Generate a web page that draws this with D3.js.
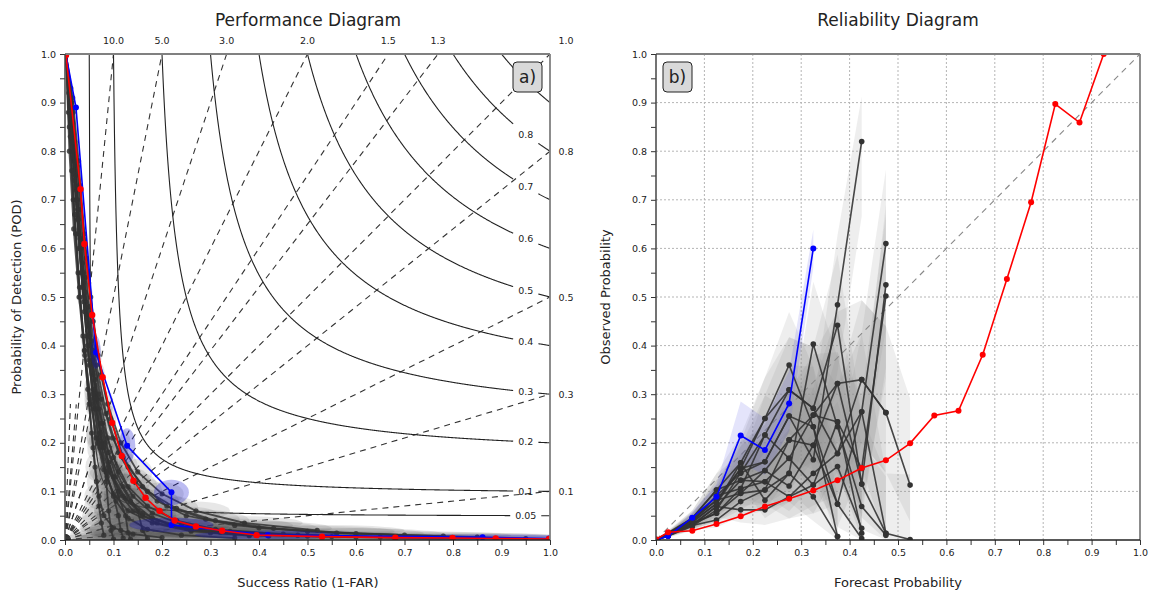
<!DOCTYPE html>
<html><head><meta charset="utf-8">
<script src="https://cdn.jsdelivr.net/npm/d3@7"></script>
<style>
body{margin:0;background:#fff;}
text{font-family:"DejaVu Sans",sans-serif;fill:#222;}
</style>
</head><body>
<svg id="c" width="1152" height="595"></svg>
<script>
// ---------------- DATA ----------------
const tickValues = [0,0.1,0.2,0.3,0.4,0.5,0.6,0.7,0.8,0.9,1.0];
const minorTickValues = [0.05,0.15,0.25,0.35,0.45,0.55,0.65,0.75,0.85,0.95];
const csiLevels = [0.05,0.1,0.2,0.3,0.4,0.5,0.6,0.7,0.8,0.9];
const csiLabelled = [0.05,0.1,0.2,0.3,0.4,0.5,0.6,0.7,0.8];
const biasLevels = [0.1,0.3,0.5,0.8,1.0,1.3,1.5,2.0,3.0,5.0,10.0];
const fanBias = [0.3,0.7,1.7,3,6,12,25];

// Performance diagram: [success ratio, POD]
const redPerf = [[0.002,0.998],[0.032,0.722],[0.040,0.609],[0.056,0.463],[0.0776,0.335],[0.0973,0.241],[0.117,0.173],[0.141,0.122],[0.166,0.087],[0.195,0.060],[0.226,0.040],[0.270,0.028],[0.324,0.019],[0.395,0.010],[0.530,0.0069],[0.681,0.0048],[0.799,0.004],[0.888,0.003],[0.998,0.002]];
const bluePerf = [[0.002,0.998],[0.0226,0.89],[0.0638,0.386],[0.128,0.194],[0.2195,0.098],[0.2195,0.031],[0.418,0.0103],[0.861,0.0056],[0.998,0.003]];
const bluePerfErrSR  = [0,0,0.010,0.017,0.036,0.087,0.15,0.2,0];
const bluePerfErrPOD = [0,0,0.034,0.036,0.026,0.015,0.009,0.006,0];
const ensPerf = [
 [[0.002,1],[0.012,0.9],[0.022,0.75],[0.033,0.6],[0.045,0.46],[0.058,0.34],[0.072,0.24],[0.09,0.16],[0.11,0.1],[0.14,0.06],[0.19,0.035],[0.26,0.02],[0.38,0.011],[0.6,0.006],[0.95,0.003]],
 [[0.002,1],[0.01,0.88],[0.019,0.74],[0.029,0.6],[0.04,0.47],[0.05,0.36],[0.063,0.27],[0.08,0.19],[0.1,0.13],[0.125,0.085],[0.16,0.05],[0.22,0.03],[0.32,0.016],[0.5,0.008]],
 [[0.002,1],[0.015,0.86],[0.026,0.7],[0.038,0.55],[0.05,0.42],[0.062,0.3],[0.075,0.2],[0.085,0.12],[0.09,0.06],[0.095,0.02],[0.1,0.002]],
 [[0.002,1],[0.014,0.9],[0.025,0.77],[0.037,0.62],[0.05,0.48],[0.065,0.36],[0.085,0.26],[0.11,0.18],[0.145,0.12],[0.19,0.08],[0.25,0.05],[0.35,0.03],[0.5,0.018],[0.7,0.01]],
 [[0.002,1],[0.009,0.85],[0.017,0.7],[0.027,0.55],[0.037,0.42],[0.047,0.31],[0.055,0.22],[0.062,0.15],[0.07,0.09],[0.08,0.05],[0.1,0.025],[0.14,0.012],[0.2,0.005]],
 [[0.002,1],[0.013,0.87],[0.024,0.72],[0.036,0.57],[0.048,0.44],[0.062,0.33],[0.078,0.24],[0.1,0.17],[0.13,0.11],[0.17,0.07],[0.23,0.04],[0.31,0.022],[0.45,0.012],[0.65,0.006]],
 [[0.002,1],[0.011,0.89],[0.021,0.76],[0.031,0.62],[0.043,0.49],[0.057,0.37],[0.07,0.27],[0.09,0.18],[0.12,0.11],[0.15,0.06],[0.16,0.02],[0.17,0.003]],
 [[0.002,1],[0.016,0.91],[0.028,0.78],[0.04,0.63],[0.053,0.5],[0.068,0.38],[0.088,0.28],[0.115,0.2],[0.15,0.14],[0.2,0.095],[0.27,0.06],[0.37,0.035],[0.52,0.02]],
 [[0.002,1],[0.01,0.9],[0.018,0.78],[0.028,0.63],[0.039,0.49],[0.05,0.37],[0.06,0.27],[0.072,0.19],[0.087,0.13],[0.105,0.08],[0.13,0.045],[0.17,0.022],[0.24,0.01],[0.35,0.004]],
 [[0.002,1],[0.014,0.84],[0.026,0.68],[0.039,0.53],[0.052,0.4],[0.066,0.29],[0.083,0.2],[0.105,0.13],[0.135,0.08],[0.18,0.045],[0.25,0.024],[0.35,0.013],[0.55,0.007],[0.8,0.004]],
 [[0.002,1],[0.012,0.86],[0.023,0.7],[0.034,0.55],[0.046,0.42],[0.058,0.31],[0.072,0.22],[0.09,0.15],[0.11,0.09],[0.125,0.05],[0.13,0.015],[0.135,0.002]],
 [[0.002,1],[0.008,0.92],[0.016,0.8],[0.026,0.66],[0.036,0.52],[0.046,0.4],[0.057,0.3],[0.07,0.21],[0.09,0.14],[0.12,0.09],[0.16,0.055],[0.22,0.03],[0.3,0.015],[0.42,0.008]],
 [[0.002,1],[0.017,0.88],[0.03,0.73],[0.044,0.58],[0.058,0.45],[0.074,0.34],[0.094,0.25],[0.12,0.17],[0.16,0.11],[0.21,0.07],[0.29,0.043],[0.4,0.025],[0.56,0.014],[0.78,0.008]],
 [[0.002,1],[0.011,0.83],[0.02,0.67],[0.03,0.52],[0.04,0.39],[0.05,0.28],[0.058,0.19],[0.065,0.12],[0.07,0.07],[0.075,0.035],[0.08,0.01]],
 [[0.002,1],[0.007,0.88],[0.014,0.76],[0.022,0.63],[0.031,0.5],[0.041,0.39],[0.052,0.29],[0.064,0.21],[0.08,0.145],[0.1,0.095],[0.13,0.06],[0.18,0.035],[0.26,0.018],[0.38,0.009]],
 [[0.002,1],[0.012,0.93],[0.02,0.82],[0.03,0.68],[0.042,0.54],[0.055,0.41],[0.07,0.3],[0.088,0.21],[0.11,0.14],[0.14,0.09],[0.18,0.055],[0.24,0.032],[0.34,0.018],[0.48,0.01],[0.68,0.005]],
 [[0.002,1],[0.009,0.8],[0.018,0.64],[0.029,0.5],[0.041,0.38],[0.054,0.28],[0.068,0.2],[0.085,0.14],[0.1,0.09],[0.11,0.05],[0.115,0.02],[0.12,0.004]],
 [[0.002,1],[0.015,0.82],[0.028,0.66],[0.042,0.51],[0.057,0.39],[0.075,0.29],[0.098,0.21],[0.13,0.15],[0.17,0.1],[0.23,0.065],[0.31,0.04],[0.43,0.024],[0.6,0.013],[0.85,0.006]]
];
const ensErrSR  = [0,0.001,0.002,0.003,0.005,0.008,0.012,0.02,0.03,0.045,0.07,0.12,0.18,0.22,0.26];
const ensErrPOD = [0,0.006,0.01,0.014,0.018,0.022,0.026,0.028,0.027,0.024,0.019,0.014,0.011,0.008,0.006];

// Reliability diagram
const relBins = [0,0.025,0.075,0.125,0.175,0.225,0.275,0.325,0.375,0.425,0.475,0.525,0.575,0.625,0.675,0.725,0.775,0.825,0.875,0.925];
const binCounts = [5000,3000,900,400,200,120,80,58,44,36,30,25];
const redRel = [0.0014,0.016,0.019,0.033,0.049,0.069,0.085,0.102,0.123,0.148,0.164,0.199,0.256,0.266,0.381,0.537,0.695,0.897,0.859,1.0];
const blueRel = [0,0.008,0.046,0.089,0.215,0.185,0.281,0.60];
const blueCounts = [5000,3000,1500,600,160,170,200,600];
const ensRel = [
 [0,0.012,0.040,0.082,0.147,0.161,0.255,0.165,0.484,0.82],
 [0,0.015,0.045,0.103,0.159,0.250,0.360,0.233,0.074,0.264,0.61],
 [0,0.012,0.038,0.091,0.138,0.216,0.309,0.271,0.442,0.115,0.525],
 [0,0.008,0.030,0.069,0.123,0.143,0.206,0.195,0.322,0.330,0.262,0.113],
 [0,0.010,0.035,0.055,0.106,0.120,0.168,0.257,0.243,0.147,0.502],
 [0,0.014,0.042,0.082,0.096,0.103,0.137,0.403,0.233,0.069,0.010],
 [0,0.010,0.032,0.069,0.062,0.062,0.089,0.113,0.151,0.024],
 [0,0.011,0.036,0.075,0.159,0.082,0.137,0.089,0.007],
 [0,0.013,0.040,0.091,0.106,0.216,0.168,0.113,0.243,0.014],
 [0,0.009,0.033,0.055,0.096,0.143,0.111,0.195,0.074,0.003],
 [0,0.012,0.045,0.103,0.123,0.120,0.089,0.137,0.178,0.264,0.014],
 [0,0.010,0.030,0.041,0.079,0.103,0.206,0.257,0.322,0.115,0.014,0.001],
 [0,0.008,0.028,0.062,0.138,0.161,0.255,0.233,0.007],
 [0,0.011,0.038,0.075,0.147,0.250,0.309,0.271,0.178,0.330,0.262]
];

// ---------------- DRAWING ----------------
const svg = d3.select("#c");
const xL = d3.scaleLinear([0,1],[65,550]);
const yL = d3.scaleLinear([0,1],[540,54]);
const xR = d3.scaleLinear([0,1],[656,1140]);
const yR = d3.scaleLinear([0,1],[540,54]);

function wilson(p,n){const z=1.96,z2=z*z,den=1+z2/n;const c=(p+z2/(2*n))/den;const h=z*Math.sqrt(p*(1-p)/n+z2/(4*n*n))/den;return [Math.max(0,c-h),Math.min(1,c+h)];}

svg.append("clipPath").attr("id","clipL").append("rect").attr("x",65).attr("y",54).attr("width",485).attr("height",486);
svg.append("clipPath").attr("id","clipR").append("rect").attr("x",656).attr("y",54).attr("width",484).attr("height",486);

// ===== Left panel =====
const gL = svg.append("g");
const gLc = gL.append("g").attr("clip-path","url(#clipL)");

gLc.selectAll("line.bias").data(biasLevels).join("line")
  .attr("x1",xL(0)).attr("y1",yL(0))
  .attr("x2",b=>xL(Math.min(1,1/b))).attr("y2",b=>yL(Math.min(1,b)))
  .attr("stroke","#333").attr("stroke-width",1.1).attr("stroke-dasharray","6,5");
const fanReach = 0.28;
gLc.selectAll("line.fan").data(fanBias).join("line")
  .attr("x1",xL(0)).attr("y1",yL(0))
  .attr("x2",b=>xL(fanReach*Math.cos(Math.atan(b)))).attr("y2",b=>yL(fanReach*Math.sin(Math.atan(b))))
  .attr("stroke","#333").attr("stroke-width",1.1).attr("stroke-dasharray","6,5");

const labelSR = 0.95;
csiLevels.forEach(c=>{
  const lbl = String(c);
  const labelled = csiLabelled.includes(c);
  const halfGap = labelled ? (lbl.length*5.6)/2+4 : 0;
  const lx = xL(labelSR);
  const pts = d3.range(c, 1.0005, 0.001).map(s=>[s, 1/(1/c - 1/s + 1)]);
  const line = d3.line().x(d=>xL(d[0])).y(d=>yL(d[1])).defined(d=>!labelled || Math.abs(xL(d[0])-lx)>halfGap);
  gLc.append("path").attr("d",line(pts)).attr("fill","none").attr("stroke","#222").attr("stroke-width",1.1);
  if(labelled){
    const py = 1/(1/c - 1/labelSR + 1);
    gL.append("text").attr("x",lx).attr("y",yL(py)+3.5).attr("text-anchor","middle")
      .attr("font-size",9.5).text(lbl);
  }
});

const ensG = gLc.append("g");
ensPerf.forEach(m=>{
  ensG.append("g").selectAll("ellipse").data(m).join("ellipse")
    .attr("cx",d=>xL(d[0])).attr("cy",d=>yL(d[1]))
    .attr("rx",(d,i)=>xL(ensErrSR[i])-xL(0)).attr("ry",(d,i)=>yL(0)-yL(ensErrPOD[i]))
    .attr("fill","#555").attr("fill-opacity",0.14);
});
const lineL = d3.line().x(d=>xL(d[0])).y(d=>yL(d[1]));
ensPerf.forEach(m=>{
  ensG.append("path").attr("d",lineL(m)).attr("fill","none").attr("stroke","#333").attr("stroke-opacity",0.85).attr("stroke-width",1.8);
  ensG.append("g").selectAll("circle").data(m).join("circle")
    .attr("cx",d=>xL(d[0])).attr("cy",d=>yL(d[1])).attr("r",2.6).attr("fill","#333").attr("fill-opacity",0.85);
});
gLc.append("g").selectAll("ellipse").data(bluePerf).join("ellipse")
  .attr("cx",d=>xL(d[0])).attr("cy",d=>yL(d[1]))
  .attr("rx",(d,i)=>xL(bluePerfErrSR[i])-xL(0)).attr("ry",(d,i)=>yL(0)-yL(bluePerfErrPOD[i]))
  .attr("fill","#1010d0").attr("fill-opacity",0.28);
gLc.append("path").attr("d",lineL(bluePerf)).attr("fill","none").attr("stroke","#0000ff").attr("stroke-width",1.6);
gLc.append("g").selectAll("circle").data(bluePerf).join("circle")
  .attr("cx",d=>xL(d[0])).attr("cy",d=>yL(d[1])).attr("r",3).attr("fill","#0000ff");
gLc.append("path").attr("d",lineL(redPerf)).attr("fill","none").attr("stroke","#ff0000").attr("stroke-width",1.6);
gLc.append("g").selectAll("circle").data(redPerf).join("circle")
  .attr("cx",d=>xL(d[0])).attr("cy",d=>yL(d[1])).attr("r",3.2).attr("fill","#ff0000");

gL.selectAll("text.bl").data(biasLevels).join("text")
  .attr("x",b=> b>1 ? xL(1/b) : xL(1)+16)
  .attr("y",b=> b<1 ? yL(b)+3.5 : yL(1)-10)
  .attr("text-anchor","middle").attr("font-size",9.5)
  .text(b=>d3.format(".1f")(b));

// ===== Right panel =====
const gR = svg.append("g");
gR.selectAll("line.gx").data(tickValues.slice(1,10)).join("line")
  .attr("x1",d=>xR(d)).attr("x2",d=>xR(d)).attr("y1",yR(0)).attr("y2",yR(1))
  .attr("stroke","#b5b5b5").attr("stroke-dasharray","2,2").attr("stroke-width",1);
gR.selectAll("line.gy").data(tickValues.slice(1,10)).join("line")
  .attr("y1",d=>yR(d)).attr("y2",d=>yR(d)).attr("x1",xR(0)).attr("x2",xR(1))
  .attr("stroke","#b5b5b5").attr("stroke-dasharray","2,2").attr("stroke-width",1);
const gRc = gR.append("g").attr("clip-path","url(#clipR)");
gRc.append("line").attr("x1",xR(0)).attr("y1",yR(0)).attr("x2",xR(1)).attr("y2",yR(1))
  .attr("stroke","#888").attr("stroke-width",1.1).attr("stroke-dasharray","6,5");
const bandArea = d3.area().x(d=>xR(d.x)).y0(d=>yR(d.lo)).y1(d=>yR(d.hi));
ensRel.forEach(m=>{
  const pts = m.map((v,i)=>{const w=wilson(v,binCounts[i]);return {x:relBins[i],lo:w[0],hi:w[1]};});
  gRc.append("path").attr("d",bandArea(pts)).attr("fill","#8a8a8a").attr("fill-opacity",0.15);
});
{
  const pts = blueRel.map((v,i)=>{const w=wilson(v,blueCounts[i]);return {x:relBins[i],lo:w[0],hi:w[1]};});
  gRc.append("path").attr("d",bandArea(pts)).attr("fill","#3030e0").attr("fill-opacity",0.13);
}
const lineR = d3.line().x((d,i)=>xR(relBins[i])).y(d=>yR(d));
ensRel.forEach(m=>{
  gRc.append("path").attr("d",lineR(m)).attr("fill","none").attr("stroke","#333").attr("stroke-opacity",0.9).attr("stroke-width",1.6);
  gRc.append("g").selectAll("circle").data(m).join("circle")
    .attr("cx",(d,i)=>xR(relBins[i])).attr("cy",d=>yR(d)).attr("r",2.8).attr("fill","#333");
});
gRc.append("path").attr("d",lineR(blueRel)).attr("fill","none").attr("stroke","#0000ff").attr("stroke-width",1.6);
gRc.append("g").selectAll("circle").data(blueRel).join("circle")
  .attr("cx",(d,i)=>xR(relBins[i])).attr("cy",d=>yR(d)).attr("r",3).attr("fill","#0000ff");
gRc.append("path").attr("d",lineR(redRel)).attr("fill","none").attr("stroke","#ff0000").attr("stroke-width",1.6);
gRc.append("g").selectAll("circle").data(redRel).join("circle")
  .attr("cx",(d,i)=>xR(relBins[i])).attr("cy",d=>yR(d)).attr("r",3).attr("fill","#ff0000");

// ===== Axes =====
function axes(g,x,y){
  const fmt = d3.format(".1f");
  const allTicks = tickValues.concat(minorTickValues);
  const isMajor = v => tickValues.some(t=>Math.abs(t-v)<1e-9);
  const ax = g.append("g").attr("transform",`translate(0,${y(0)})`)
    .call(d3.axisBottom(x).tickValues(allTicks).tickSize(5).tickPadding(4).tickFormat(v=>isMajor(v)?fmt(v):""));
  const ay = g.append("g").attr("transform",`translate(${x(0)},0)`)
    .call(d3.axisLeft(y).tickValues(allTicks).tickSize(5).tickPadding(4).tickFormat(v=>isMajor(v)?fmt(v):""));
  [ax,ay].forEach(a=>{
    a.select(".domain").remove();
    a.selectAll(".tick line").attr("stroke","#333");
    a.selectAll(".tick text").attr("font-size",9.5).attr("font-family","DejaVu Sans").attr("fill","#222");
  });
  g.append("line").attr("x1",x(0)).attr("x2",x(1)).attr("y1",y(1)).attr("y2",y(1)).attr("stroke","#808080").attr("stroke-width",1.8);
  g.append("line").attr("x1",x(1)).attr("x2",x(1)).attr("y1",y(0)).attr("y2",y(1)).attr("stroke","#808080").attr("stroke-width",1.8);
  g.append("line").attr("x1",x(0)).attr("x2",x(1)).attr("y1",y(0)).attr("y2",y(0)).attr("stroke","#222").attr("stroke-width",1.5);
  g.append("line").attr("x1",x(0)).attr("x2",x(0)).attr("y1",y(0)).attr("y2",y(1)).attr("stroke","#444").attr("stroke-width",1.5);
}
axes(gL,xL,yL);
axes(gR,xR,yR);

function tagBox(cx,cy,txt){
  svg.append("rect").attr("x",cx-14.5).attr("y",cy-15).attr("width",29).attr("height",30).attr("rx",4)
    .attr("fill","#d9d9d9").attr("stroke","#222").attr("stroke-width",1);
  svg.append("text").attr("x",cx).attr("y",cy+6).attr("text-anchor","middle").attr("font-size",17).text(txt);
}
tagBox(527.5,77,"a)");
tagBox(677.5,77,"b)");

svg.append("text").attr("x",308).attr("y",26).attr("text-anchor","middle").attr("font-size",17).text("Performance Diagram");
svg.append("text").attr("x",898).attr("y",26).attr("text-anchor","middle").attr("font-size",17).text("Reliability Diagram");
svg.append("text").attr("x",308).attr("y",587).attr("text-anchor","middle").attr("font-size",13).text("Success Ratio (1-FAR)");
svg.append("text").attr("x",898).attr("y",587).attr("text-anchor","middle").attr("font-size",13).text("Forecast Probability");
svg.append("text").attr("transform","translate(21,297) rotate(-90)").attr("text-anchor","middle").attr("font-size",13).text("Probability of Detection (POD)");
svg.append("text").attr("transform","translate(610,297) rotate(-90)").attr("text-anchor","middle").attr("font-size",13).text("Observed Probability");
</script>
</body></html>
